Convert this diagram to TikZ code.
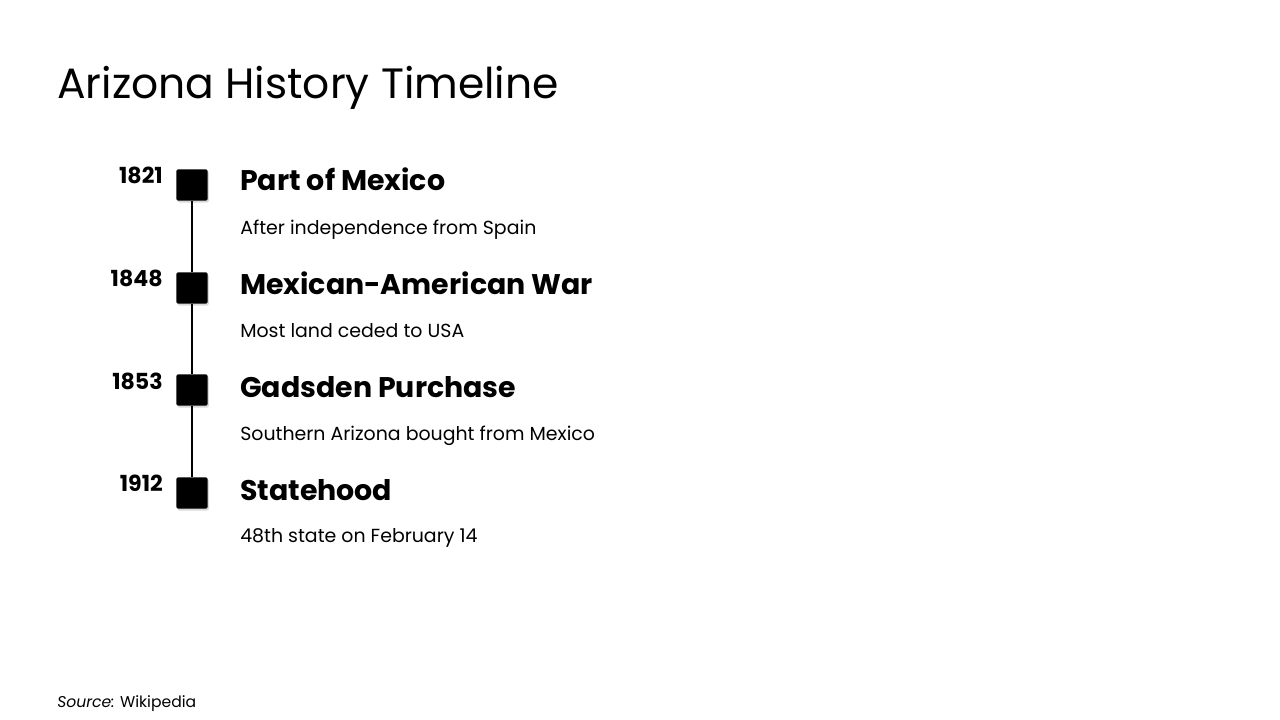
\documentclass[tikz,border=0pt]{standalone}
\usepackage{fontspec}
\setmainfont{Poppins}
\usepackage{tikz}
\usetikzlibrary{shadows}

\tikzset{
  marker/.style={fill=black, minimum size=23.5pt, inner sep=0pt, rounded corners=1.5pt,
    drop shadow={shadow xshift=0.9pt, shadow yshift=-1.4pt, opacity=0.3}},
  year/.style={anchor=base east, font=\fontsize{16.6}{19}\selectfont\bfseries},
  event/.style={anchor=base west, font=\fontsize{21.3}{25}\selectfont\bfseries},
  detail/.style={anchor=base west, font=\fontsize{14.2}{17}\selectfont}
}

\begin{document}
\begin{tikzpicture}[x=0.75pt, y=-0.75pt]
    % Page
    \useasboundingbox (0,0) rectangle (1280,720);

    % Title
    \node[anchor=base west, inner sep=0pt, font=\fontsize{31.8}{36}\selectfont] (title) at (57,99) {Arizona History Timeline};

    % Markers
    \node[marker] (m1) at (192,185) {};
    \node[marker] (m2) at (192,288) {};
    \node[marker] (m3) at (192,390) {};
    \node[marker] (m4) at (192,493) {};

    % Years
    \node[year, inner sep=0pt] (y1) at (163,184) {1821};
    \node[year, inner sep=0pt] (y2) at (163,286) {1848};
    \node[year, inner sep=0pt] (y3) at (163,389) {1853};
    \node[year, inner sep=0pt] (y4) at (163,491) {1912};

    % Events
    \node[event, inner sep=0pt] (e1) at (240,191) {Part of Mexico};
    \node[detail, inner sep=0pt] (d1) at (240,234) {After independence from Spain};
    \node[event, inner sep=0pt] (e2) at (240,294) {Mexican-American War};
    \node[detail, inner sep=0pt] (d2) at (240,337) {Most land ceded to USA};
    \node[event, inner sep=0pt] (e3) at (240,397) {Gadsden Purchase};
    \node[detail, inner sep=0pt] (d3) at (240,440) {Southern Arizona bought from Mexico};
    \node[event, inner sep=0pt] (e4) at (240,500) {Statehood};
    \node[detail, inner sep=0pt] (d4) at (240,542) {48th state on February 14};

    % Connecting line
    \draw[line width=2pt] (m1.south) -- (m2.north);
    \draw[line width=2pt] (m2.south) -- (m3.north);
    \draw[line width=2pt] (m3.south) -- (m4.north);

    % Source
    \node[anchor=base west, inner sep=0pt, font=\fontsize{11.7}{14}\selectfont] (src) at (57,707) {\textit{Source:} Wikipedia};
  \end{tikzpicture}
\end{document}
